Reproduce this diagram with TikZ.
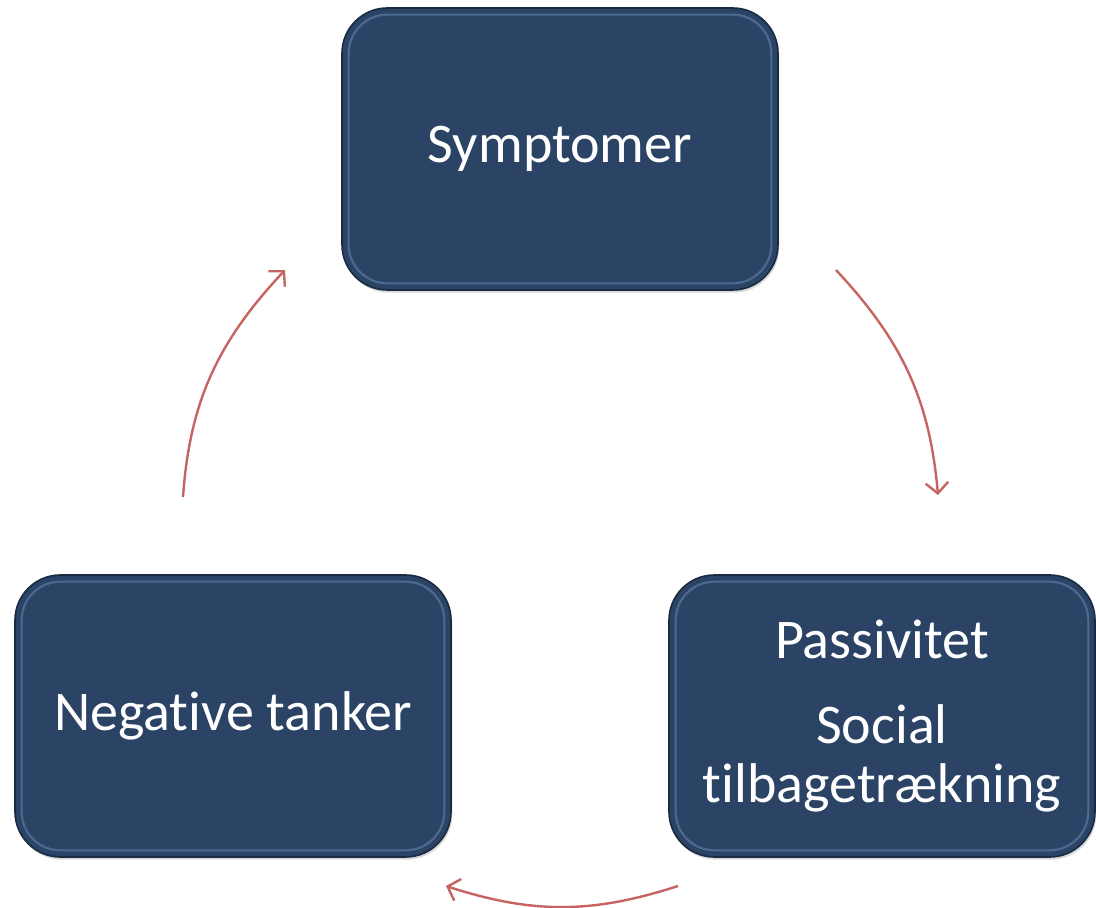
\documentclass[tikz,border=0pt]{standalone}
\usepackage{fontspec}
\setmainfont{Carlito}[Ligatures=NoCommon]
\usepackage{tikz}
\usetikzlibrary{positioning,shadows,arrows.meta}
\definecolor{boxblue}{RGB}{43,68,102}
\definecolor{boxrim}{RGB}{26,42,66}
\definecolor{rimlight}{RGB}{120,150,195}
\definecolor{arrowred}{RGB}{198,100,98}

\begin{document}
\begin{tikzpicture}[x=0.75pt,y=0.75pt]
\tikzstyle{stage}=[rectangle, rounded corners=34pt, minimum width=327pt, minimum height=211.5pt, fill=boxblue, draw=boxrim, line width=1.2pt, text=white, font=\fontsize{42}{44}\selectfont, align=center, drop shadow={opacity=0.3, shadow xshift=1pt, shadow yshift=-2pt},
	path picture={\draw[rimlight, opacity=0.45, line width=1.6pt, rounded corners=29pt] ([shift={(5pt,5pt)}]path picture bounding box.south west) rectangle ([shift={(-5pt,-5pt)}]path picture bounding box.north east);}]
\tikzstyle{flowarc}=[-{Straight Barb[length=8pt,width=17pt]}, line width=1.8pt, draw=arrowred]
\useasboundingbox (0,0) rectangle (1096,907);

\node[stage] (symp) at (560,758) {Symptomer};
\node[stage] (neg) at (233,191) {Negative tanker};
\node[stage, minimum width=319.5pt] (pass) at (882,191) {Passivitet\\[20pt]Social\\tilbagetrækning};

% ends of the three arcs
\coordinate (s1) at (836,637);
\coordinate (e1) at (938,412);
\coordinate (s2) at (678,21);
\coordinate (e2) at (446,21);
\coordinate (s3) at (183,410);
\coordinate (e3) at (285,637);

\path
	(s1) edge[flowarc,out=-47,in=95] (e1)
	(s2) edge[flowarc,out=-162,in=-18] (e2)
	(s3) edge[flowarc,out=86,in=227] (e3);

\end{tikzpicture}
\end{document}
